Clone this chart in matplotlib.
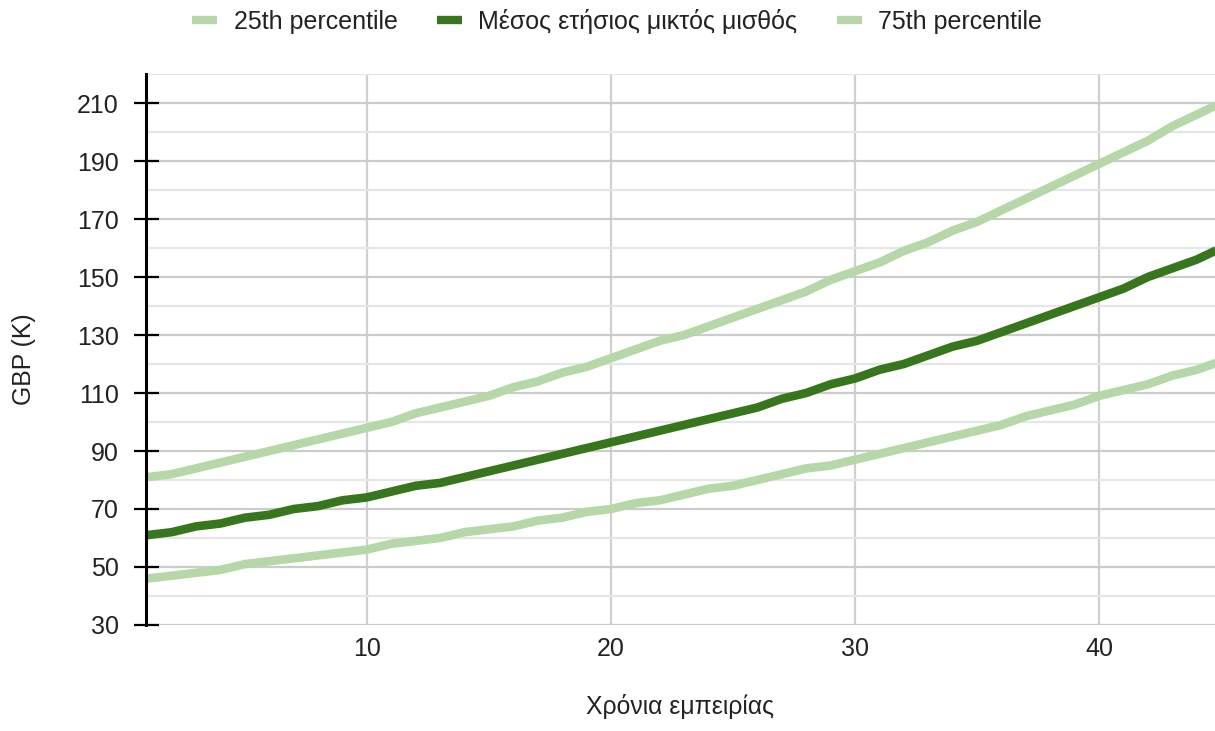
import matplotlib
matplotlib.use("Agg")
import matplotlib.pyplot as plt
from matplotlib.ticker import FixedLocator

plt.rcParams['font.family'] = ['Liberation Sans', 'DejaVu Sans']

years = list(range(1, 46))
p25 = [46, 47, 48, 49, 51, 52, 53, 54, 55, 56,
       58, 59, 60, 62, 63, 64, 66, 67, 69, 70,
       72, 73, 75, 77, 78, 80, 82, 84, 85, 87,
       89, 91, 93, 95, 97, 99, 102, 104, 106, 109,
       111, 113, 116, 118, 121]
mean = [61, 62, 64, 65, 67, 68, 70, 71, 73, 74,
        76, 78, 79, 81, 83, 85, 87, 89, 91, 93,
        95, 97, 99, 101, 103, 105, 108, 110, 113, 115,
        118, 120, 123, 126, 128, 131, 134, 137, 140, 143,
        146, 150, 153, 156, 160]
p75 = [81, 82, 84, 86, 88, 90, 92, 94, 96, 98,
       100, 103, 105, 107, 109, 112, 114, 117, 119, 122,
       125, 128, 130, 133, 136, 139, 142, 145, 149, 152,
       155, 159, 162, 166, 169, 173, 177, 181, 185, 189,
       193, 197, 202, 206, 210]

labels = ['25th percentile', 'Μέσος ετήσιος μικτός μισθός', '75th percentile']
light = '#b6d7a8'
dark = '#38761d'

W, H = 1215, 731
fig = plt.figure(figsize=(W / 100, H / 100), dpi=100)
ax = fig.add_axes([146 / W, 1 - 625 / H, (W - 146) / W, (625 - 74) / H])

lw = 6.2
l1, = ax.plot(years, p25, color=light, lw=lw, label=labels[0], solid_capstyle='butt', zorder=3)
l2, = ax.plot(years, mean, color=dark, lw=lw, label=labels[1], solid_capstyle='butt', zorder=4)
l3, = ax.plot(years, p75, color=light, lw=lw, label=labels[2], solid_capstyle='butt', zorder=3)

ax.set_xlim(0.95, 44.75)
ax.set_ylim(30, 220)

ax.yaxis.set_major_locator(FixedLocator(list(range(30, 211, 20))))
ax.yaxis.set_minor_locator(FixedLocator(list(range(40, 221, 20))))
ax.xaxis.set_major_locator(FixedLocator([10, 20, 30, 40]))

ax.grid(which='major', axis='y', color='#cccccc', lw=1.6, zorder=0)
ax.grid(which='minor', axis='y', color='#e6e6e6', lw=1.6, zorder=0)
ax.grid(which='major', axis='x', color='#d0d0d0', lw=1.6, zorder=0)
ax.set_axisbelow(True)

for s in ['top', 'right', 'bottom']:
    ax.spines[s].set_visible(False)
ax.spines['left'].set_color('black')
ax.spines['left'].set_linewidth(2.2)
ax.spines['left'].set_zorder(5)

fs = 18
ax.tick_params(axis='y', which='major', direction='inout', length=18, width=1.6,
               color='black', labelsize=fs, pad=10.5, labelcolor='#222222')
ax.tick_params(axis='y', which='minor', length=0)
ax.tick_params(axis='x', which='major', length=0, labelsize=fs, pad=9, labelcolor='#222222')

ax.set_ylabel('GBP (K)', fontsize=17.8, color='#222222')
ax.yaxis.set_label_coords(-0.103, 0.483)
ax.set_xlabel('Χρόνια εμπειρίας', fontsize=17.8, color='#222222')
ax.xaxis.set_label_coords(0.5, -0.126)

leg = fig.legend(handles=[l1, l2, l3], labels=labels, loc='center',
                 bbox_to_anchor=(617 / W, 1 - 21 / H), ncol=3, frameon=False,
                 fontsize=fs, handlelength=1.0, handletextpad=0.68,
                 columnspacing=1.56, labelcolor='#222222')
for h in leg.legend_handles:
    h.set_linewidth(6)

fig.savefig('out.png', dpi=100)
